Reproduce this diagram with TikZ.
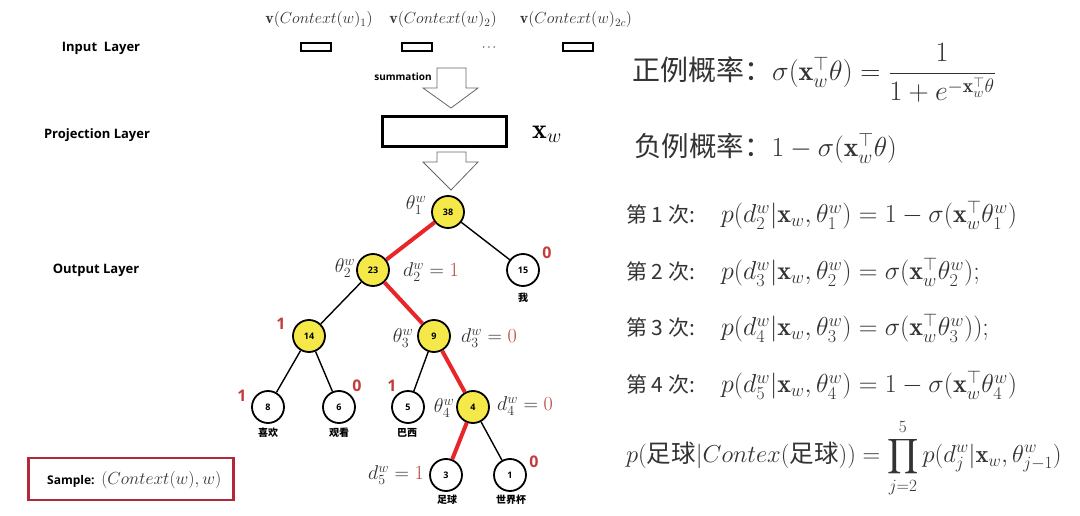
\RequirePackage{fix-cm}
\documentclass[tikz,border=0pt]{standalone}
\usepackage{amsmath,amssymb}
\usepackage{fontspec}
\newfontfamily\cjk{Noto Sans CJK SC}
\newfontfamily\lab{Open Sans}
\definecolor{ink}{HTML}{333333}
\definecolor{nodeyellow}{HTML}{F5E94A}
\definecolor{pathred}{HTML}{E8262A}
\definecolor{digitred}{HTML}{C43B3B}
\definecolor{valred}{HTML}{B5463F}
\definecolor{boxred}{HTML}{B22A3A}
\tikzset{
  layerlabel/.style={font=\lab\bfseries\fontsize{13}{15}\selectfont, text=black},
  inbox/.style={draw=black, line width=2pt, minimum width=30pt, minimum height=8pt, inner sep=0pt},
  projbox/.style={draw=black, line width=3pt, minimum width=124pt, minimum height=30pt, inner sep=0pt},
  treenode/.style={circle, draw=black, line width=1.8pt, minimum size=32pt, inner sep=0pt,
     font=\lab\bfseries\fontsize{9}{10}\selectfont},
  ynode/.style={treenode, fill=nodeyellow},
  wnode/.style={treenode, fill=white},
  blackedge/.style={draw=black, line width=1.4pt},
  rededge/.style={draw=pathred, line width=4pt},
  bitlabel/.style={font=\lab\bfseries\fontsize{16}{18}\selectfont, text=digitred},
  wordlabel/.style={font=\cjk\bfseries\fontsize{10}{12}\selectfont, text=black},
  treemath/.style={font=\fontsize{20}{24}\selectfont, text=ink, inner sep=0pt},
  toplabel/.style={font=\fontsize{16}{18}\selectfont, text=ink, inner sep=0pt},
  hollow/.style={draw=gray!80!black, line width=0.8pt, fill=white},
  formula/.style={font=\fontsize{26}{30}\selectfont, text=ink, anchor=west, inner sep=0pt},
  bigformula/.style={font=\fontsize{28}{32}\selectfont, text=ink, anchor=west, inner sep=0pt},
}
\newcommand{\ci}[1]{{\cjk\fontsize{21}{24}\selectfont #1}}
\begin{document}
\begin{tikzpicture}[x=1pt,y=-1pt]
\useasboundingbox[fill=white] (0,0) rectangle (1080,516);

% layer labels
\node[layerlabel] (inlab) at (101,48) {Input\ \ Layer};
\node[layerlabel] (projlab) at (97,135) {Projection Layer};
\node[layerlabel] (outlab) at (96,270) {Output Layer};

% input vectors
\node[toplabel] (v1) at (319,20) {$\mathbf{v}(Context(w)_1)$};
\node[toplabel] (v2) at (443,20) {$\mathbf{v}(Context(w)_2)$};
\node[toplabel] (v3) at (576,20) {$\mathbf{v}(Context(w)_{2c})$};
\node[inbox] (b1) at (316,47) {};
\node[inbox] (b2) at (417,47) {};
\node[font=\fontsize{12}{14}\selectfont, inner sep=0pt] (dots) at (490,48) {$\cdots$};
\node[inbox] (b3) at (578,47) {};

% summation arrow
\node[font=\lab\bfseries\fontsize{10}{12}\selectfont, inner sep=0pt] (summ) at (403,77) {summation};
\draw[hollow] (437,68) -- (466,68) -- (466,88) -- (478,88) -- (451,108) -- (423,88) -- (437,88) -- cycle;

% projection
\node[projbox] (proj) at (444,132) {};
\node[font=\fontsize{28}{32}\selectfont, inner sep=0pt] (xw) at (547,134) {$\mathbf{x}_w$};
\draw[hollow] (437,152) -- (466,152) -- (466,162) -- (478,162) -- (451,190) -- (423,162) -- (437,162) -- cycle;

% tree
\node[ynode] (n38) at (448,212) {38};
\node[ynode] (n23) at (373,270) {23};
\node[wnode] (n15) at (523,270) {15};
\node[ynode] (n14) at (309,336) {14};
\node[ynode] (n9) at (434,336) {9};
\node[wnode] (n8) at (268,407) {8};
\node[wnode] (n6) at (339,407) {6};
\node[wnode] (n5) at (408,407) {5};
\node[ynode] (n4) at (473,407) {4};
\node[wnode] (n3) at (446,475) {3};
\node[wnode] (n1) at (510,475) {1};

\draw[rededge] (n38) -- (n23);
\draw[blackedge] (n38) -- (n15);
\draw[blackedge] (n23) -- (n14);
\draw[rededge] (n23) -- (n9);
\draw[blackedge] (n14) -- (n8);
\draw[blackedge] (n14) -- (n6);
\draw[blackedge] (n9) -- (n5);
\draw[rededge] (n9) -- (n4);
\draw[rededge] (n4) -- (n3);
\draw[blackedge] (n4) -- (n1);

% words under leaves
\node[wordlabel] (w15) at (523,298) {我};
\node[wordlabel] (w8) at (268,433) {喜欢};
\node[wordlabel] (w6) at (339,433) {观看};
\node[wordlabel] (w5) at (407,433) {巴西};
\node[wordlabel] (w3) at (447,500) {足球};
\node[wordlabel] (w1) at (511,500) {世界杯};

% bits
\node[bitlabel] (c15) at (547,253) {0};
\node[bitlabel] (c14) at (281,324) {1};
\node[bitlabel] (c8) at (242,396) {1};
\node[bitlabel] (c6) at (357,386) {0};
\node[bitlabel] (c5) at (392,386) {1};
\node[bitlabel] (c1) at (534,462) {0};

% theta / d labels
\node[treemath] (t1) at (416,205) {$\theta_1^w$};
\node[treemath] (t2) at (345,268) {$\theta_2^w$};
\node[treemath] (d2) at (431,272) {$d_2^w = \textcolor{valred}{1}$};
\node[treemath] (t3) at (403,338) {$\theta_3^w$};
\node[treemath] (d3) at (489,338) {$d_3^w = \textcolor{valred}{0}$};
\node[treemath] (t4) at (444,408) {$\theta_4^w$};
\node[treemath] (d4) at (525,406) {$d_4^w = \textcolor{valred}{0}$};
\node[treemath] (d5) at (396,475) {$d_5^w = \textcolor{valred}{1}$};

% sample box
\node[draw=boxred, line width=2.5pt, minimum width=205pt, minimum height=42pt, inner sep=0pt] (sample) at (131,479) {};
\node[anchor=west, inner sep=0pt] (sampletxt) at (47,480)
  {{\lab\bfseries\fontsize{12}{14}\selectfont Sample:}\ \ {\fontsize{17.5}{20}\selectfont\color{ink}$(Context(w),w)$}};

% right side formulas
\node[bigformula] (pos) at (632,73) {{\cjk 正例概率：}$\sigma(\mathbf{x}_w^{\top}\theta)=\dfrac{1}{1+e^{-\mathbf{x}_w^{\top}\theta}}$};
\node[bigformula, font=\fontsize{27.5}{32}\selectfont] (neg) at (634,148) {{\cjk 负例概率：}$1-\sigma(\mathbf{x}_w^{\top}\theta)$};
\node[formula] (s1) at (626,215) {\ci{第\ 1\ 次:}\quad$p(d_2^w|\mathbf{x}_w,\theta_1^w)=1-\sigma(\mathbf{x}_w^{\top}\theta_1^w)$};
\node[formula] (s2) at (626,272) {\ci{第\ 2\ 次:}\quad$p(d_3^w|\mathbf{x}_w,\theta_2^w)=\sigma(\mathbf{x}_w^{\top}\theta_2^w);$};
\node[formula] (s3) at (626,328) {\ci{第\ 3\ 次:}\quad$p(d_4^w|\mathbf{x}_w,\theta_3^w)=\sigma(\mathbf{x}_w^{\top}\theta_3^w));$};
\node[formula] (s4) at (626,385) {\ci{第\ 4\ 次:}\quad$p(d_5^w|\mathbf{x}_w,\theta_4^w)=1-\sigma(\mathbf{x}_w^{\top}\theta_4^w)$};
\node[formula, font=\fontsize{24.5}{29}\selectfont] (prod) at (626,458) {$p(\text{\cjk 足球}|Contex(\text{\cjk 足球}))=\displaystyle\prod_{j=2}^{5}p(d_j^w|\mathbf{x}_w,\theta_{j-1}^w)$};
\end{tikzpicture}
\end{document}
